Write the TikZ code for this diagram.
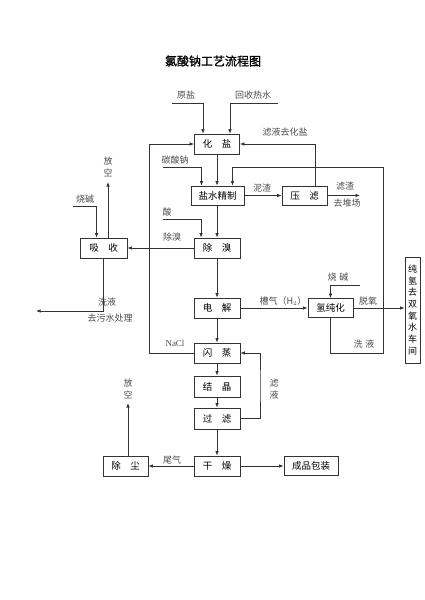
\documentclass[tikz,border=0pt]{standalone}
\usepackage{fontspec}
\setmainfont{Noto Sans CJK SC}
\newfontfamily\latf{Liberation Serif}
\newfontfamily\titlef[FakeBold=1.2]{Noto Sans CJK SC}
\usetikzlibrary{arrows.meta}
\begin{document}
\begin{tikzpicture}[x=1pt,y=-1pt,
  box/.style={draw=black!80, line width=0.8pt, minimum width=45pt, minimum height=20pt, inner sep=0pt, font=\fontsize{9.5}{11}\selectfont},
  lab/.style={font=\fontsize{9}{11.7}\selectfont, text=black!70, inner sep=0pt, align=center},
  flow/.style={draw=black!80, line width=0.7pt, -{Latex[length=4.5pt,width=3.5pt]}},
  ln/.style={draw=black!80, line width=0.7pt}]
\useasboundingbox[fill=white] (0,0) rectangle (425,600);

% title
\node[font=\titlef\fontsize{12}{14}\selectfont] (title) at (213,61) {氯酸钠工艺流程图};

% boxes
\node[box] (hy) at (217,144) {化\hspace{1em}盐};
\node[box, minimum width=53pt, minimum height=19pt] (jz) at (217.5,195.5) {盐水精制};
\node[box, minimum height=19pt] (yl) at (304.5,195.5) {压\hspace{1em}滤};
\node[box, minimum width=46pt] (cx) at (217,248) {除\hspace{1em}溴};
\node[box, minimum width=47pt] (xs) at (103.5,248) {吸\hspace{1em}收};
\node[box, minimum width=46pt] (dj) at (217,308) {电\hspace{1em}解};
\node[box, minimum height=19pt] (qch) at (330.5,308) {氢纯化};
\node[box, minimum width=15pt, minimum height=106pt, font=\fontsize{9}{11.7}\selectfont, align=center] (cq) at (412.5,310) {纯\\氢\\去\\双\\氧\\水\\车\\间};
\node[box, minimum width=46pt] (sz) at (217,353) {闪\hspace{1em}蒸};
\node[box, minimum width=46pt, minimum height=21pt] (jj) at (217,386.5) {结\hspace{1em}晶};
\node[box, minimum width=46pt, minimum height=21pt] (gl) at (217,418.5) {过\hspace{1em}滤};
\node[box, minimum width=46pt] (gz) at (217,466) {干\hspace{1em}燥};
\node[box] (cc) at (125.5,466) {除\hspace{1em}尘};
\node[box, minimum width=54pt, minimum height=19pt] (cp) at (311,466) {成品包装};

% free ends
\coordinate (ys0) at (172,103);
\coordinate (hs0) at (278,103);
\coordinate (tn0) at (163,167);
\coordinate (s0) at (163,219);
\coordinate (sj0) at (73,206);
\coordinate (sj1) at (360,285);
\coordinate (fk1) at (108,182);
\coordinate (fk2) at (128,403);
\coordinate (xy0) at (36,311);
\coordinate (lz1) at (360,195.5);
\coordinate (xy1) at (383,353);
\coordinate (xy2) at (383,167);
\coordinate (nc) at (149,250);
\coordinate (ly) at (260,385);

% labels
\node[lab] (l1) at (186,95) {原盐};
\node[lab] (l2) at (253,95) {回收热水};
\node[lab] (l3) at (285,132) {滤液去化盐};
\node[lab] (l4) at (175,160) {碳酸钠};
\node[lab] (l5) at (262,188) {泥渣};
\node[lab] (l6) at (345,186) {滤渣};
\node[lab] (l7) at (347,203) {去堆场};
\node[lab] (l8) at (167,212) {酸};
\node[lab] (l9) at (172,237) {除溴};
\node[lab] (l10) at (85,199) {烧碱};
\node[lab] (l11) at (108,167) {放\\空};
\node[lab] (l12) at (107,302) {洗液};
\node[lab] (l13) at (110,318) {去污水处理};
\node[lab] (l14) at (283,301) {槽气（H$_2$）};
\node[lab] (l15) at (338,277) {烧\hspace{0.3em}碱};
\node[lab] (l16) at (368,301) {脱氧};
\node[lab] (l17) at (364,344) {洗\hspace{0.3em}液};
\node[lab, font=\latf\fontsize{9}{11}\selectfont] (l18) at (175,343) {NaCl};
\node[lab] (l19) at (274,389) {滤\\液};
\node[lab] (l20) at (172,460) {尾气};
\node[lab] (l21) at (128,389) {放\\空};

% connectors
\draw[flow] (ys0) -| ([xshift=-14pt]hy.north);
\draw[flow] (hs0) -| ([xshift=13pt]hy.north);
\draw[flow] (hy.south) -- (hy.south |- jz.north);
\draw[flow] (tn0) -| ([xshift=-16pt]jz.north);
\draw[flow] (jz.east) -- (jz.east -| yl.west);
\draw[flow] (yl.east) -- (lz1);
\draw[flow] ([xshift=10.5pt]yl.north) |- (hy.east);
\draw[flow] (qch.south) |- (xy1) -- (xy2) -| ([xshift=15pt]jz.north);
\draw[flow] (s0) -| ([xshift=-16pt]cx.north);
\draw[flow] (jz.south -| cx.north) -- (cx.north);
\draw[flow] (cx.west) -- (xs.east);
\draw[flow] (sj0) -| ([xshift=-7pt]xs.north);
\draw[flow] ([xshift=4.5pt]xs.north) -- (fk1);
\draw[flow] (xs.south) |- (xy0);
\draw[flow] (cx.south) -- (dj.north);
\draw[flow] (dj.east) -- (dj.east -| qch.west);
\draw[flow] (sj1) -| (qch.north);
\draw[flow] (qch.east) -- (qch.east -| cq.west);
\draw[flow] (dj.south) -- (sz.north);
\draw[flow] (sz.west) -- (sz.west -| nc) |- (hy.west);
\draw[flow] (sz.south) -- (jj.north);
\draw[flow] (jj.south) -- (gl.north);
\draw[flow] (gl.east) -| (ly) |- (sz.east);
\draw[flow] (gl.south) -- (gz.north);
\draw[flow] (gz.west) -- (cc.east);
\draw[flow] ([xshift=2.5pt]cc.north) -- (fk2);
\draw[flow] (gz.east) -- (cp.west);
\end{tikzpicture}
\end{document}
